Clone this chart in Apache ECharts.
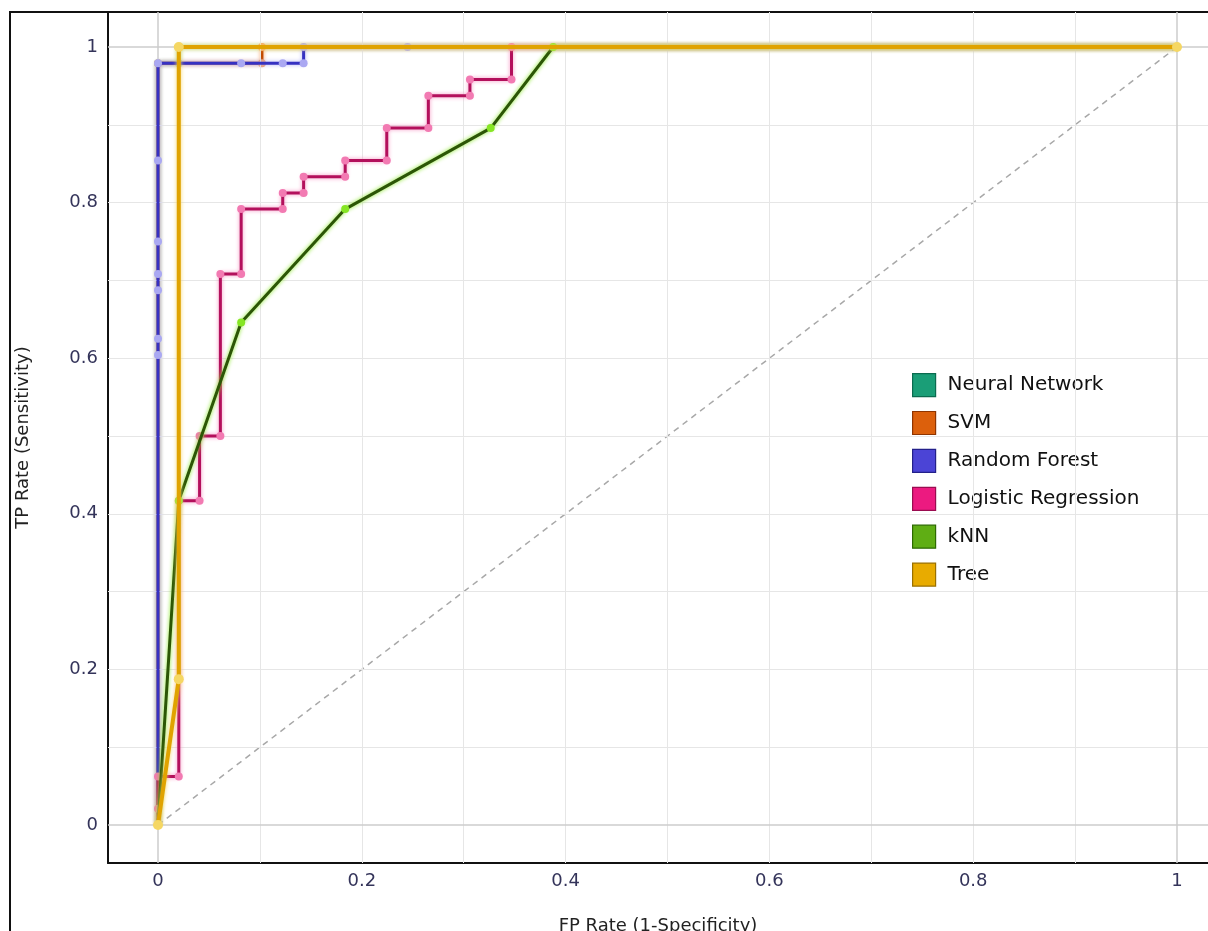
<!DOCTYPE html>
<html>
<head>
<meta charset="utf-8">
<script src="https://cdn.jsdelivr.net/npm/echarts@6/dist/echarts.min.js"></script>
<style>
  html, body { margin: 0; padding: 0; background: #fff; overflow: hidden; }
  #frame { position: absolute; left: 9px; top: 11px; width: 1199px; height: 920px;
           border-left: 2px solid #111; border-top: 2px solid #111; box-sizing: border-box; }
  #chart { position: absolute; left: 0; top: 0; width: 1208px; height: 931px; }
</style>
</head>
<body>
<div id="frame"></div>
<div id="chart"></div>
<script>
// ---- data ----
const seriesNames = ['Neural Network', 'SVM', 'Random Forest', 'Logistic Regression', 'kNN', 'Tree'];

const nnFPR = [0, 0, 0.0204, 0.0204, 1];
const nnTPR = [0, 0.9792, 0.9792, 1, 1];

const svmFPR = [0, 0, 0.1020, 0.1020, 1];
const svmTPR = [0, 0.9792, 0.9792, 1, 1];

const rfFPR = [0, 0, 0, 0, 0, 0, 0, 0, 0.0816, 0.1224, 0.1429, 0.1429, 0.2449, 1];
const rfTPR = [0, 0.6042, 0.625, 0.6875, 0.7083, 0.75, 0.8542, 0.9792, 0.9792, 0.9792, 0.9792, 1, 1, 1];

const lrFPR = [0, 0, 0, 0.0204, 0.0204, 0.0408, 0.0408, 0.0612, 0.0612, 0.0816, 0.0816, 0.1224, 0.1224,
               0.1429, 0.1429, 0.1837, 0.1837, 0.2245, 0.2245, 0.2653, 0.2653, 0.3061, 0.3061, 0.3469, 0.3469, 1];
const lrTPR = [0, 0.0208, 0.0625, 0.0625, 0.4167, 0.4167, 0.5, 0.5, 0.7083, 0.7083, 0.7917, 0.7917, 0.8125,
               0.8125, 0.8333, 0.8333, 0.8542, 0.8542, 0.8958, 0.8958, 0.9375, 0.9375, 0.9583, 0.9583, 1, 1];

const knnFPR = [0, 0.0204, 0.0816, 0.1837, 0.3265, 0.3878, 1];
const knnTPR = [0, 0.4167, 0.6458, 0.7917, 0.8958, 1, 1];

const treeFPR = [0, 0.0204, 0.0204, 1];
const treeTPR = [0, 0.1875, 1, 1];

const diagFPR = [0, 1];
const diagTPR = [0, 1];

const tickLabels = [0, 0.2, 0.4, 0.6, 0.8, 1];
const gridValues = [0.1, 0.2, 0.3, 0.4, 0.5, 0.6, 0.7, 0.8, 0.9];
const edgeValues = [0, 1];

// ---- styles ----
const styles = {
  'Neural Network':      { legend: '#1a9e77', border: '#0b6b4f', line: '#0f7d5c', glow: '#7fdcb8', point: '#7fdcb8', width: 3, size: 8 },
  'SVM':                 { legend: '#dc600c', border: '#8f3500', line: '#c24a00', glow: '#f4a066', point: '#f4a066', width: 3, size: 8 },
  'Random Forest':       { legend: '#4b44d6', border: '#23208a', line: '#3631c2', glow: '#b0aef2', point: '#aaa8f2', width: 3, size: 8 },
  'Logistic Regression': { legend: '#ec1a80', border: '#9a0c50', line: '#b3105c', glow: '#f590c0', point: '#f27ab2', width: 3, size: 8 },
  'kNN':                 { legend: '#5fae14', border: '#2d6a00', line: '#2c5606', glow: '#86e624', point: '#86e624', width: 3, size: 8 },
  'Tree':                { legend: '#e8ab00', border: '#9a7000', line: '#e0a300', glow: '#f6d66a', point: '#f5d763', width: 4, size: 10 }
};

function pairs(xs, ys) { return xs.map((x, i) => [x, ys[i]]); }

const curveData = {
  'Neural Network': pairs(nnFPR, nnTPR),
  'SVM': pairs(svmFPR, svmTPR),
  'Random Forest': pairs(rfFPR, rfTPR),
  'Logistic Regression': pairs(lrFPR, lrTPR),
  'kNN': pairs(knnFPR, knnTPR),
  'Tree': pairs(treeFPR, treeTPR)
};

// axis ranges: 0 and 1 placed inside with padding like the reference
const XMIN = -0.04907, XMAX = 1.0304;
const YMIN = -0.0488, YMAX = 1.0450;

const FONT = 'DejaVu Sans';
const TICK_COLOR = '#34345a';

const gridLineData = []
  .concat(gridValues.map(v => ({ xAxis: v, lineStyle: { color: '#e6e6e6', width: 1, type: 'solid' } })))
  .concat(gridValues.map(v => ({ yAxis: v, lineStyle: { color: '#e6e6e6', width: 1, type: 'solid' } })))
  .concat(edgeValues.map(v => ({ xAxis: v, lineStyle: { color: '#cccccc', width: 1.5, type: 'solid' } })))
  .concat(edgeValues.map(v => ({ yAxis: v, lineStyle: { color: '#cccccc', width: 1.5, type: 'solid' } })));

const series = [{
  name: 'diagonal',
  type: 'line',
  data: pairs(diagFPR, diagTPR),
  showSymbol: false,
  silent: true,
  z: 1,
  lineStyle: { color: '#a8a8a8', width: 1.5, type: [6, 5] },
  markLine: {
    silent: true,
    symbol: ['none', 'none'],
    label: { show: false },
    animation: false,
    data: gridLineData
  }
}];

seriesNames.forEach((name, i) => {
  const s = styles[name];
  series.push({
    name: name,
    type: 'line',
    data: curveData[name],
    z: 3 + i,
    symbol: 'circle',
    symbolSize: s.size,
    showAllSymbol: true,
    itemStyle: { color: s.point },
    lineStyle: { color: s.line, width: s.width, shadowColor: s.glow, shadowBlur: 4 },
    emphasis: { disabled: true }
  });
});

const chart = echarts.init(document.getElementById('chart'), null, { renderer: 'canvas' });
chart.setOption({
  animation: false,
  backgroundColor: 'transparent',
  grid: { left: 108, right: 0, top: 12, bottom: 68, containLabel: false, outerBoundsMode: 'none' },
  legend: {
    orient: 'vertical',
    left: 904,
    top: 362,
    padding: [11, 12, 8, 8],
    backgroundColor: '#ffffff',
    itemWidth: 23,
    itemHeight: 23,
    itemGap: 13.7,
    icon: 'rect',
    selectedMode: false,
    textStyle: { fontFamily: FONT, fontSize: 20, color: '#111', padding: [0, 0, 0, 7] },
    data: seriesNames.map(n => ({
      name: n,
      itemStyle: { color: styles[n].legend, borderColor: styles[n].border, borderWidth: 1.2, shadowBlur: 0, shadowColor: 'transparent' }
    }))
  },
  xAxis: {
    type: 'value',
    min: XMIN,
    max: XMAX,
    name: 'FP Rate (1-Specificity)',
    nameLocation: 'middle',
    nameGap: 54,
    nameTextStyle: { fontFamily: FONT, fontSize: 18, color: '#222' },
    axisLine: { onZero: false, lineStyle: { color: '#111', width: 2 } },
    axisTick: { show: false },
    splitLine: { show: false },
    axisLabel: {
      customValues: tickLabels,
      margin: 9,
      fontFamily: FONT,
      fontSize: 18,
      color: TICK_COLOR,
      formatter: v => String(+v.toFixed(1))
    }
  },
  yAxis: {
    type: 'value',
    min: YMIN,
    max: YMAX,
    name: 'TP Rate (Sensitivity)',
    nameLocation: 'middle',
    nameGap: 76,
    nameTextStyle: { fontFamily: FONT, fontSize: 18, color: '#222' },
    axisLine: { onZero: false, lineStyle: { color: '#111', width: 2 } },
    axisTick: { show: false },
    splitLine: { show: false },
    axisLabel: {
      customValues: tickLabels,
      margin: 10,
      fontFamily: FONT,
      fontSize: 18,
      color: TICK_COLOR,
      formatter: v => String(+v.toFixed(1))
    }
  },
  series: series
});
</script>
</body>
</html>
